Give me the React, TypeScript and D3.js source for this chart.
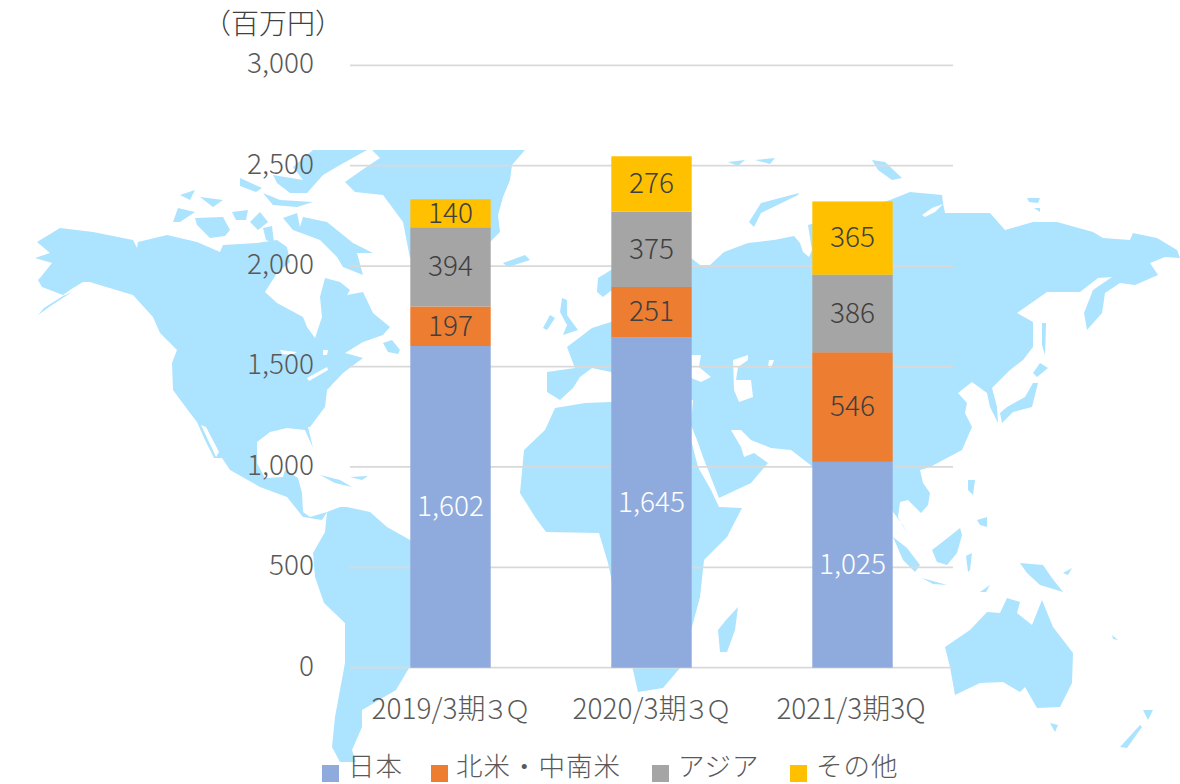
import React from "react";
import * as d3 from "d3";

const categories = ["2019/3期３Ｑ", "2020/3期３Ｑ", "2021/3期3Q"];
const seriesNames = ["日本", "北米・中南米", "アジア", "その他"];
const japan = [1602, 1645, 1025];
const americas = [197, 251, 546];
const asia = [394, 375, 386];
const other = [140, 276, 365];
const seriesColors = ["#8FAADC", "#ED7D31", "#A5A5A5", "#FFC000"];
const labelColors = ["#FFFFFF", "#404040", "#404040", "#404040"];
const yTicks = [0, 500, 1000, 1500, 2000, 2500, 3000];

type P = [number, number];
// Decorative background map: hand-traced land outlines
const landShapes: P[][] = [
  // North America
  [[37,242],[60,228],[93,232],[133,240],[137,248],[138,242],[167,235],[197,242],[220,252],[223,245],[257,243],[277,240],[287,247],[290,262],[277,273],[265,292],[277,303],[303,317],[307,327],[315,338],[322,317],[320,297],[325,278],[340,282],[350,290],[347,295],[363,292],[373,313],[390,327],[383,335],[363,342],[345,353],[363,358],[343,373],[327,390],[325,407],[310,427],[308,427],[313,448],[305,430],[287,428],[270,432],[257,442],[257,463],[265,478],[283,477],[285,470],[298,478],[302,493],[303,512],[310,517],[327,512],[322,520],[303,517],[287,497],[260,487],[230,470],[222,458],[214,458],[205,440],[197,422],[190,413],[173,390],[172,363],[177,350],[160,333],[153,317],[133,295],[93,283],[90,282],[83,282],[73,288],[63,295],[42,287],[38,280],[40,278],[52,263],[35,258],[50,253]],
  [[63,296],[72,292],[52,305],[38,315],[44,308]],
  // Newfoundland
  [[383,343],[392,340],[400,350],[398,354],[388,352]],
  // Greenland
  [[372,150],[525,150],[512,165],[510,180],[503,197],[498,215],[500,232],[490,242],[470,250],[440,256],[410,258],[403,222],[383,195],[355,192],[345,182],[362,170],[380,158]],
  // Baffin
  [[283,218],[297,213],[300,227],[303,217],[327,222],[353,243],[373,253],[357,253],[363,275],[343,267],[337,257],[320,240],[293,230]],
  // Victoria
  [[195,218],[223,217],[230,230],[225,236],[210,238],[197,225]],
  // Banks
  [[173,222],[178,208],[195,212],[180,222]],
  // Ellesmere and neighbours
  [[313,150],[367,150],[340,165],[323,175],[307,193],[290,193],[277,183],[273,175],[303,180],[293,167]],
  [[263,193],[280,200],[313,202],[297,207],[273,205]],
  [[200,197],[223,200],[213,207]],
  [[180,195],[195,190],[190,200]],
  [[250,222],[260,212],[268,222],[258,230]],
  [[263,228],[272,226],[274,243],[266,240]],
  [[232,212],[248,210],[246,220],[236,220]],
  [[240,178],[262,188],[256,192],[240,186]],
  // Iceland
  [[503,263],[525,255],[530,260],[508,267]],
  // UK, Ireland
  [[562,298],[567,300],[567,315],[578,330],[563,335],[567,325],[560,312]],
  [[550,315],[555,318],[547,330],[543,328]],
  // Scandinavia
  [[611,270],[598,278],[597,292],[603,297],[612,290],[650,275],[691,258],[691,241],[650,245]],
  // Eurasia
  [[547,372],[575,368],[573,363],[567,347],[592,328],[611,322],[660,280],[691,258],[700,265],[710,265],[724,252],[748,243],[774,240],[794,236],[800,243],[803,252],[809,257],[812,250],[808,225],[890,200],[910,192],[942,195],[943,203],[945,213],[990,213],[1005,230],[1033,222],[1057,222],[1093,232],[1103,238],[1130,240],[1133,233],[1157,238],[1177,250],[1180,258],[1165,257],[1150,263],[1158,275],[1135,285],[1120,283],[1105,293],[1102,313],[1087,330],[1084,313],[1093,290],[1112,277],[1098,278],[1080,292],[1047,292],[1017,313],[1033,322],[1033,347],[1023,360],[1010,370],[992,388],[997,407],[998,423],[990,407],[987,393],[972,382],[958,393],[967,403],[965,413],[972,427],[962,450],[930,467],[920,470],[923,483],[930,493],[928,505],[921,513],[915,507],[908,500],[900,502],[898,517],[907,533],[913,545],[903,525],[893,512],[880,475],[835,515],[813,467],[804,460],[791,450],[771,448],[751,440],[741,430],[731,430],[741,447],[744,457],[754,453],[768,463],[751,483],[719,498],[712,480],[703,457],[697,440],[691,425],[693,400],[650,395],[611,372],[592,368],[580,377],[573,388],[560,400],[547,392]],
  // Africa
  [[611,402],[585,403],[555,408],[545,430],[524,450],[520,493],[535,517],[546,532],[599,533],[608,563],[620,620],[633,670],[638,692],[663,688],[680,668],[693,623],[700,597],[704,560],[727,537],[742,508],[719,507],[711,490],[698,467],[691,440],[660,415]],
  // South America
  [[327,512],[340,507],[347,507],[370,512],[387,527],[410,540],[480,570],[470,600],[415,660],[409,668],[396,690],[362,710],[362,727],[352,750],[356,762],[340,762],[332,747],[335,717],[345,663],[345,623],[324,603],[315,577],[313,553],[325,532]],
  // Madagascar
  [[738,607],[735,630],[727,652],[720,652],[718,630],[726,620]],
  // Japan
  [[1000,413],[1002,423],[1013,412],[1032,407],[1038,383],[1033,383],[1025,397],[1007,407]],
  [[1033,373],[1040,363],[1048,368],[1037,377]],
  // Sakhalin
  [[1042,323],[1046,323],[1045,355],[1042,345]],
  // Novaya Zemlya and arctic islands
  [[799,193],[761,203],[749,222],[754,227],[761,213],[798,195]],
  [[872,160],[885,162],[902,178],[892,180],[878,170]],
  [[728,162],[745,160],[738,166]],
  [[755,160],[775,158],[770,164]],
  [[1027,198],[1040,198],[1038,203],[1029,202]],
  [[1034,208],[1040,208],[1040,212]],
  // Sumatra, Java, Borneo
  [[893,537],[907,548],[920,565],[915,572],[903,560]],
  [[922,578],[947,585],[933,584]],
  [[932,550],[945,540],[960,528],[962,535],[957,553],[947,565],[937,562]],
  // Philippines, Sulawesi, Timor
  [[968,480],[975,480],[973,495],[968,490]],
  [[977,520],[987,517],[987,527],[980,525]],
  [[966,556],[972,553],[970,570],[968,572]],
  [[980,592],[990,585],[986,592]],
  // New Guinea and Pacific
  [[1020,563],[1043,565],[1052,578],[1063,592],[1040,585],[1027,573]],
  [[1063,573],[1072,568],[1068,575]],
  [[1112,635],[1118,640],[1113,639]],
  // Australia
  [[945,647],[970,630],[987,612],[1000,613],[1007,598],[1020,602],[1017,613],[1032,625],[1042,600],[1053,627],[1073,653],[1072,683],[1060,707],[1037,708],[1025,687],[1020,692],[1003,682],[980,683],[955,695],[950,667]],
  // Tasmania, New Zealand
  [[1050,723],[1058,725],[1055,732]],
  [[1143,710],[1153,710],[1148,720]],
  [[1140,725],[1120,747],[1127,748],[1142,727]],
  // Cuba and Caribbean
  [[320,475],[340,480],[352,487],[335,483]],
  [[350,477],[368,476],[362,480]],
];
// Inland waters cut out of the land
const waterShapes: P[][] = [
  [[691,355],[701,355],[699,367],[711,377],[701,382],[691,378]],
  [[733,360],[748,355],[748,360],[738,367],[736,380],[751,380],[753,397],[739,402],[734,390]],
  [[769,360],[774,360],[771,368],[768,367]],
  [[201,425],[206,427],[219,452],[216,457]],
  [[280,350],[297,352],[292,355],[282,354]],
  [[307,378],[327,367],[328,370],[309,381]],
  [[323,350],[328,350],[327,355],[323,355]],
  [[922,215],[932,208],[943,204],[935,212],[925,217]],
];

const pathOf = d3.line<P>().curve(d3.curveLinearClosed);

const X0 = 350, X1 = 953;
const x = d3.scaleBand<string>().domain(categories).range([X0, X1]).paddingInner(0.6).paddingOuter(0.3);
const y = d3.scaleLinear().domain([0, 3000]).range([667.7, 65.3]);

const rows = categories.map((c, i) => ({ c, a: japan[i], b: americas[i], d: asia[i], e: other[i] }));
const stacked = d3.stack<any>().keys(["a", "b", "d", "e"])(rows);

const legendX = [322, 431, 652, 790];
const legendTextX = [348, 456, 678, 816];
const FONT = "'Noto Sans CJK JP','Noto Sans',sans-serif";

function CategoryLabel({ label }: { label: string }) {
  const cx = x(label)! + x.bandwidth() / 2;
  const wide = /[３Ｑ]/.test(label);
  const head = wide ? label.slice(0, -2) : label;
  const tail = wide ? label.slice(-2) : "";
  return (
    <text x={cx - 1.5} y={709} dy="0.35em" textAnchor="middle" fontSize={28} fontWeight={300} fill="#595959">
      {head}
      {tail && <tspan fontSize={26} dx={-3} letterSpacing={-4}>{tail}</tspan>}
    </text>
  );
}

export default function App() {
  return (
    <svg width={1180} height={784} viewBox="0 0 1180 784"
      style={{ position: "absolute", left: 0, top: 0, fontFamily: FONT }}>
      <defs>
        <clipPath id="mapclip"><rect x={0} y={150} width={1180} height={612} /></clipPath>
        <filter id="soft"><feGaussianBlur stdDeviation={0.6} /></filter>
      </defs>
      <rect width={1180} height={784} fill="#fff" />
      <g clipPath="url(#mapclip)">
        <g filter="url(#soft)">
          {landShapes.map((s, i) => <path key={i} d={pathOf(s) || ""} fill="#ACE3FE" />)}
          {waterShapes.map((s, i) => <path key={i} d={pathOf(s) || ""} fill="#FFFFFF" />)}
        </g>
      </g>
      {yTicks.map(t => (
        <line key={t} x1={X0} x2={X1} y1={y(t)} y2={y(t)} stroke="#D9D9D9" strokeWidth={1.75} />
      ))}
      {yTicks.map(t => (
        <text key={t} x={314} y={y(t) - 2} dy="0.35em" textAnchor="end" fontSize={28} fontWeight={300} fill="#595959">
          {d3.format(",")(t)}
        </text>
      ))}
      <text x={273} y={24} dy="0.35em" textAnchor="middle" fontSize={28} fontWeight={300} fill="#404040">（百万円）</text>
      {stacked.map((s, si) => s.map((d, i) => (
        <rect key={si + "-" + i} x={x(categories[i])} width={x.bandwidth()} y={y(d[1])} height={y(d[0]) - y(d[1])}
          fill={seriesColors[si]} />
      )))}
      {stacked.map((s, si) => s.map((d, i) => (
        <text key={si + "-" + i} x={x(categories[i])! + x.bandwidth() / 2} y={(y(d[0]) + y(d[1])) / 2 - 0.5} dy="0.35em"
          textAnchor="middle" fontSize={28} fontWeight={300} fill={labelColors[si]}>
          {d3.format(",")(d[1] - d[0])}
        </text>
      )))}
      {categories.map(c => <CategoryLabel key={c} label={c} />)}
      {seriesNames.map((n, i) => (
        <g key={n}>
          <rect x={legendX[i]} y={765} width={17} height={17} fill={seriesColors[i]} />
          <text x={legendTextX[i]} y={776.2} fontSize={26.5} letterSpacing={1} fontWeight={300} fill="#595959">{n}</text>
        </g>
      ))}
    </svg>
  );
}
